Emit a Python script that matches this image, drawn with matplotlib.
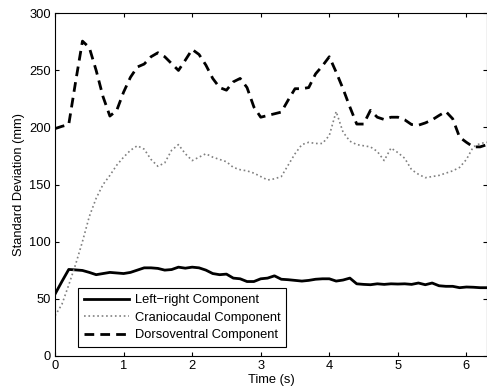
import numpy as np
import matplotlib
matplotlib.use("Agg")
import matplotlib.pyplot as plt

plt.rcParams["font.family"] = ["Liberation Sans", "DejaVu Sans"]

time_s = np.round(np.arange(0, 64) * 0.1, 1)

left_right = [54, 65, 75.6, 75.2, 74.7, 73, 71, 72, 73, 72.5,
              72, 73, 75, 77, 77, 76.5, 75, 75.5, 77.6, 76.7,
              77.6, 77, 75, 72, 71, 71.5, 68, 67.4, 65, 65,
              67.4, 68, 70, 67, 66.6, 66, 65.4, 66, 67, 67.4,
              67.4, 65.4, 66.3, 68, 63, 62.5, 62.2, 63, 62.5, 63,
              62.8, 63, 62.5, 63.7, 62.2, 63.7, 61.3, 60.8, 60.8, 59.6,
              60.2, 60, 59.6, 59.6]

craniocaudal = [35, 45, 62, 80, 100, 122, 138, 150, 158, 167,
                174, 180, 184, 181, 172, 166, 169, 180, 185, 177,
                171, 174, 177, 174, 172, 170, 165, 163, 162, 160,
                157, 154, 155, 157, 167, 177, 185, 187, 186, 186,
                193, 214, 196, 188, 185, 184, 183, 179, 171, 182,
                178, 173, 163, 159, 156, 157, 158, 160, 162, 165,
                172, 183, 186, 187]

dorsoventral = [199, 201, 202.6, 240, 275.7, 270, 250, 227, 210, 215,
                231, 244, 253, 255.6, 262, 265.5, 262, 256, 250, 259,
                268.4, 264, 254.7, 243, 235, 232.7, 240, 243, 235, 218,
                209, 210.5, 212, 213.5, 224, 234, 234, 235, 247, 254,
                262, 248.5, 234, 218, 203, 203, 215, 209, 207, 209,
                209, 206.7, 202.6, 202, 204, 206.7, 210.5, 214, 207.6, 191.5,
                187, 183, 183, 185]

FS = 9.3

fig = plt.figure(figsize=(4.87, 3.89), dpi=100)
ax = fig.add_axes([0.113, 0.0856, 0.887, 0.88])

ax.plot(time_s, left_right, "-", color="black", lw=2, label="Left\u2212right Component")
ax.plot(time_s, craniocaudal, ":", color="0.5", lw=1.2, label="Craniocaudal Component")
ax.plot(time_s, dorsoventral, "--", color="black", lw=2, dashes=(3.5, 2.2),
        label="Dorsoventral Component")

ax.set_xlim(0, 6.3)
ax.set_ylim(0, 300)
ax.set_xticks(range(0, 7))
ax.set_yticks(range(0, 301, 50))
ax.tick_params(direction="in", top=True, right=True, labelsize=FS, length=3, pad=3)
ax.set_xlabel("Time (s)", fontsize=FS, labelpad=1.5)
ax.set_ylabel("Standard Deviation (mm)", fontsize=FS, labelpad=3)

leg = ax.legend(loc="lower left", bbox_to_anchor=(0.045, 0.014), fontsize=FS,
                fancybox=False, edgecolor="black", framealpha=1,
                handlelength=3.5, handletextpad=0.4, borderpad=0.45,
                labelspacing=0.42, borderaxespad=0.3)
leg.get_frame().set_linewidth(0.8)

fig.savefig("out.png", dpi=100)
